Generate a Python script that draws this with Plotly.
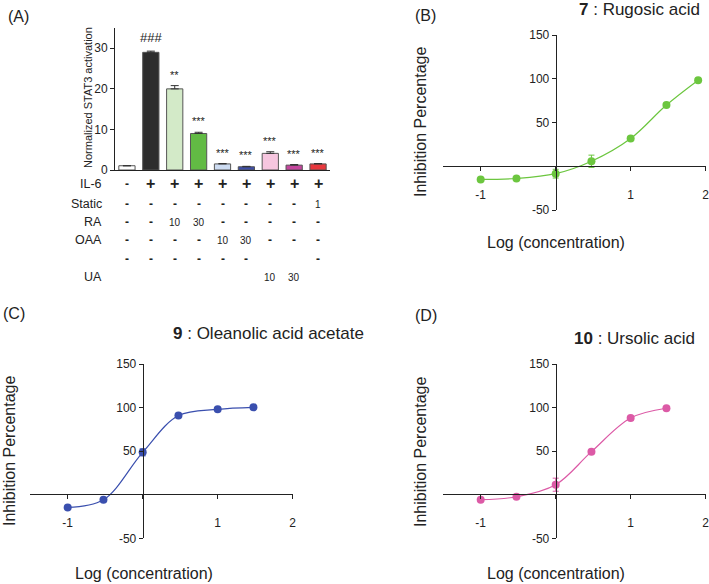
import plotly.graph_objects as go

W, H = 709, 584
def px(x): return x / W
def py(y): return 1 - y / H

# ---------------- Panel A data ----------------
bar_values = [1.05, 29.0, 20.0, 9.0, 1.5, 0.8, 4.1, 1.2, 1.5]
bar_errors = [0.0, 0.3, 0.8, 0.3, 0.1, 0.1, 0.4, 0.15, 0.1]
bar_colors = ["#ffffff", "#2d2d2d", "#d3eac8", "#62bb44", "#cddcf2",
              "#3e4ea8", "#f6c6df", "#c4469d", "#e8383d"]
bar_signif = ["", "###", "**", "***", "***", "***", "***", "***", "***"]

row_labels = ["IL-6", "Static", "RA", "OAA", "", "UA"]
row_il6    = ["-", "+", "+", "+", "+", "+", "+", "+", "+"]
row_static = ["-", "-", "-", "-", "-", "-", "-", "-", "1"]
row_ra     = ["-", "-", "10", "30", "-", "-", "-", "-", "-"]
row_oaa    = ["-", "-", "-", "-", "10", "30", "-", "-", "-"]
row_blank  = ["-", "-", "-", "-", "-", "-", "", "", "-"]
row_ua     = ["", "", "", "", "", "", "10", "30", ""]
table_rows = [row_il6, row_static, row_ra, row_oaa, row_blank, row_ua]

# ---------------- Dose-response data ----------------
log_conc_b = [-1, -0.523, 0, 0.477, 1, 1.477, 1.9]
inhib_b    = [-15, -14, -8.5, 5.7, 31.7, 70, 98.4]
err_b      = [1, 1, 5, 7, 2, 2, 1]

log_conc_c = [-1, -0.523, 0, 0.477, 1, 1.477]
inhib_c    = [-14.6, -5.8, 48.6, 90.8, 98, 100.3]
err_c      = [1, 1, 4, 1.5, 1, 1]

log_conc_d = [-1, -0.523, 0, 0.477, 1, 1.477]
inhib_d    = [-5.7, -2.3, 11.5, 49.4, 88, 99.2]
err_d      = [1, 1, 7.5, 1.5, 1.5, 1]

x_ticks = [-1, 0, 1, 2]
x_ticktext = ["-1", "", "1", "2"]
y_ticks = [-50, 0, 50, 100, 150]
y_ticktext = ["-50", "", "50", "100", "150"]

FONT = "Liberation Sans, Arial, sans-serif"
AX = "#222222"

fig = go.Figure()

# Panel A bars
fig.add_trace(go.Bar(
    x=list(range(len(bar_values))), y=bar_values, width=0.68,
    marker=dict(color=bar_colors, line=dict(color="#555555", width=1)),
    error_y=dict(type="data", symmetric=False, array=bar_errors,
                 arrayminus=[0] * len(bar_errors), color="#333333",
                 thickness=1, width=4),
    xaxis="x", yaxis="y", showlegend=False))

# Dose-response curves
def add_curve(xs, ys, es, color, xa, ya):
    fig.add_trace(go.Scatter(
        x=xs, y=ys, mode="lines+markers",
        line=dict(color=color, width=1.2, shape="spline", smoothing=1.0),
        marker=dict(color=color, size=8),
        error_y=dict(type="data", array=es, color=color, thickness=1, width=3),
        xaxis=xa, yaxis=ya, showlegend=False, cliponaxis=False))

add_curve(log_conc_b, inhib_b, err_b, "#6cc63f", "x2", "y2")
add_curve(log_conc_c, inhib_c, err_c, "#3a4fae", "x3", "y3")
add_curve(log_conc_d, inhib_d, err_d, "#dc5aa6", "x4", "y4")

def common_line():
    return dict(showline=True, linecolor=AX, linewidth=1, showgrid=False,
                zeroline=False, ticks="outside", ticklen=4, tickcolor=AX,
                automargin=False, ticklabeloverflow="allow",
                tickfont=dict(family=FONT, size=12, color="#222"))

layout = dict(
    template="none",
    width=W, height=H, margin=dict(l=0, r=0, t=0, b=0, pad=0),
    paper_bgcolor="white", plot_bgcolor="rgba(0,0,0,0)",
    font=dict(family=FONT, color="#222"),
    xaxis=dict(domain=[px(115), px(330)], range=[-0.5, 8.5], showline=True,
               linecolor=AX, linewidth=1, showgrid=False, zeroline=False,
               showticklabels=False, ticks="", anchor="y", automargin=False),
    yaxis=dict(domain=[py(170), py(28)], range=[0, 35], anchor="x",
               tickvals=[0, 10, 20, 30], **common_line()),
)

def dose_axes(xdom, ydom, xpos, ypos):
    xa = dict(domain=xdom, range=[-1.5, 2.002], anchor="free", position=xpos,
              tickvals=x_ticks, ticktext=x_ticktext, ticklabelstandoff=14,
              **common_line())
    ya = dict(domain=ydom, range=[-50, 150], anchor="free", position=ypos,
              tickvals=y_ticks, ticktext=y_ticktext, **common_line())
    return xa, ya

xa2, ya2 = dose_axes([px(443.2), px(705.8)], [py(210), py(35)], py(166), px(555.7))
xa3, ya3 = dose_axes([px(30.2), px(292.8)], [py(538.3), py(364)], py(494), px(142.7))
xa4, ya4 = dose_axes([px(443.2), px(705.8)], [py(538.3), py(364)], py(494), px(555.7))
layout.update(xaxis2=xa2, yaxis2=ya2, xaxis3=xa3, yaxis3=ya3, xaxis4=xa4, yaxis4=ya4)
fig.update_layout(**layout)

def note(text, x, y, size, xanchor="center", angle=0, xref="paper", yref="paper", yshift=0):
    return dict(text=text, x=x, y=y, xref=xref, yref=yref, xanchor=xanchor,
                yanchor="middle", textangle=angle, showarrow=False, yshift=yshift,
                font=dict(size=size, family=FONT, color="#222"))

ann = []
ann.append(note("Normalized STAT3 activation", px(88), py(98), 11, angle=-90))
# significance marks
for i, s in enumerate(bar_signif):
    if s:
        a = note(s, i, bar_values[i] + bar_errors[i], 13 if s.startswith("#") else 11,
                 xref="x", yref="y", yshift=14 if s.startswith("#") else 11)
        ann.append(a)
# table
row_y = [184, 204, 222, 240, 259, 277]
for r, (lab, row) in enumerate(zip(row_labels, table_rows)):
    if lab:
        ann.append(note(lab, px(103.5), py(row_y[r]), 12.5, xanchor="right"))
    for i, v in enumerate(row):
        if not v:
            continue
        if v == "+":
            ann.append(note("<b>+</b>", i, py(row_y[r]), 16, xref="x"))
        elif v == "-":
            ann.append(note("<b>-</b>", i, py(row_y[r]), 12, xref="x"))
        else:
            ann.append(note(v, i, py(row_y[r]), 10, xref="x"))

# panel letters
for t, x, y in [("(A)", 18, 17), ("(B)", 426, 15), ("(C)", 14, 313), ("(D)", 426, 315)]:
    ann.append(note(t, px(x), py(y), 16))
# titles
for t, x, y in [("<b>7</b> : Rugosic acid", 639, 10),
                ("<b>9</b> : Oleanolic acid acetate", 268.5, 333),
                ("<b>10</b> : Ursolic acid", 634, 338)]:
    ann.append(note(t, px(x), py(y), 17))
# axis titles
for x, y in [(420, 122), (9, 451), (420, 452)]:
    ann.append(note("Inhibition Percentage", px(x), py(y), 16, angle=-90))
for x, y in [(556, 243), (144, 573), (556, 573)]:
    ann.append(note("Log (concentration)", px(x), py(y), 16))

fig.update_layout(annotations=ann)
fig.write_html("out.html", config={"displayModeBar": False},
               post_script="document.body.style.margin='0';document.body.style.overflow='hidden';")
